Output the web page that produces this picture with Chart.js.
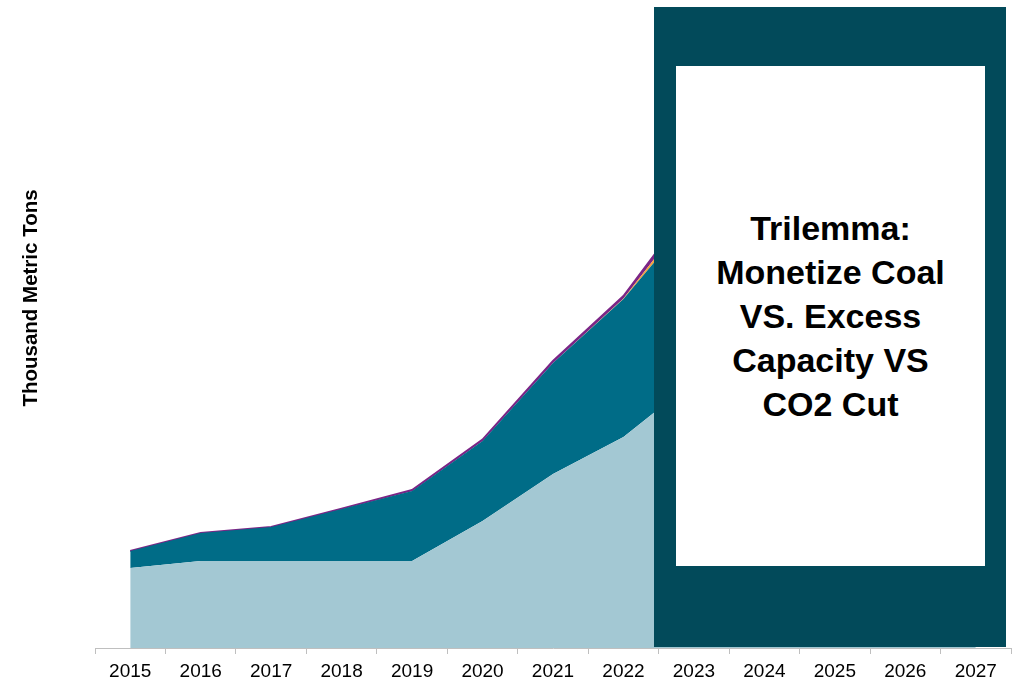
<!DOCTYPE html>
<html>
<head>
<meta charset="utf-8">
<script src="https://cdn.jsdelivr.net/npm/chart.js@4.4.1/dist/chart.umd.min.js"></script>
<style>
  body { margin: 0; background: #fff; font-family: "Liberation Sans", Arial, sans-serif; }
  #wrap { position: relative; width: 1023px; height: 682px; }
  #callout {
    position: absolute; left: 654px; top: 7px; width: 352px; height: 640px;
    background: #024a5a;
  }
  #callout .inner {
    position: absolute; left: 22px; top: 59px; width: 309px; height: 500px;
    background: #fff; display: flex; align-items: center; justify-content: center;
    text-align: center; font-weight: bold; font-size: 34px; line-height: 44px; color: #000;
  }
</style>
</head>
<body>
<div id="wrap">
  <canvas id="graph01" width="1023" height="682"></canvas>
  <div id="callout"><div class="inner">Trilemma:<br>Monetize Coal<br>VS. Excess<br>Capacity VS<br>CO2 Cut</div></div>
</div>
<script>
const years = ['2015', '2016', '2017', '2018', '2019', '2020', '2021', '2022', '2023', '2024', '2025', '2026', '2027'];

// thousand metric tons, stacked bottom to top
const baseSeries   = [2000, 2175, 2175, 2175, 2175, 3175, 4350, 5275, 6675, 7500, 8250, 9000, 9750];
const growthSeries = [425, 700, 850, 1300, 1750, 2000, 2775, 3450, 4150, 4500, 4750, 4875, 5000];
const orangeSeries = [0, 0, 0, 0, 0, 0, 0, 15, 175, 250, 300, 350, 400];
const purpleSeries = [0, 0, 0, 10, 25, 35, 50, 60, 150, 200, 250, 300, 350];

const COLORS = {
  base: '#a3c8d3',
  growth: '#006c87',
  orange: '#f4a23c',
  purple: '#7b2586'
};

// rotated axis caption on the left
const yCaption = {
  id: 'yCaption',
  afterDraw(chart) {
    const ctx = chart.ctx;
    ctx.save();
    ctx.translate(31, 298);
    ctx.rotate(-Math.PI / 2);
    ctx.font = 'bold 20.5px "Liberation Sans", Arial, sans-serif';
    ctx.fillStyle = '#000';
    ctx.textAlign = 'center';
    ctx.textBaseline = 'middle';
    ctx.fillText('Thousand Metric Tons', 0, 0);
    ctx.restore();
  }
};

function area(data, color, fill, border) {
  return {
    data: data,
    backgroundColor: color,
    borderColor: border || color,
    borderWidth: border ? 2 : 0,
    fill: fill,
    pointRadius: 0,
    tension: 0
  };
}

new Chart(document.getElementById('graph01'), {
  type: 'line',
  data: {
    labels: years,
    datasets: [
      area(baseSeries, COLORS.base, 'origin'),
      area(growthSeries, COLORS.growth, '-1'),
      area(orangeSeries, COLORS.orange, '-1'),
      area(purpleSeries, COLORS.purple, '-1', COLORS.purple)
    ]
  },
  options: {
    responsive: false,
    animation: false,
    layout: { padding: { left: 95, right: 12, top: 8, bottom: 0 } },
    plugins: { legend: { display: false }, tooltip: { enabled: false } },
    scales: {
      x: {
        offset: true,
        afterFit(scale) { scale.height = 34; },
        grid: { offset: true, drawOnChartArea: false, drawTicks: true, tickLength: 6, color: '#bfbfbf' },
        border: { color: '#bfbfbf' },
        ticks: {
          color: '#000',
          font: { family: '"Liberation Sans", Arial, sans-serif', size: 19, lineHeight: 1 },
          padding: 8,
          maxRotation: 0
        }
      },
      y: {
        display: false,
        stacked: true,
        min: 0,
        max: 16000
      }
    }
  },
  plugins: [yCaption]
});
</script>
</body>
</html>
